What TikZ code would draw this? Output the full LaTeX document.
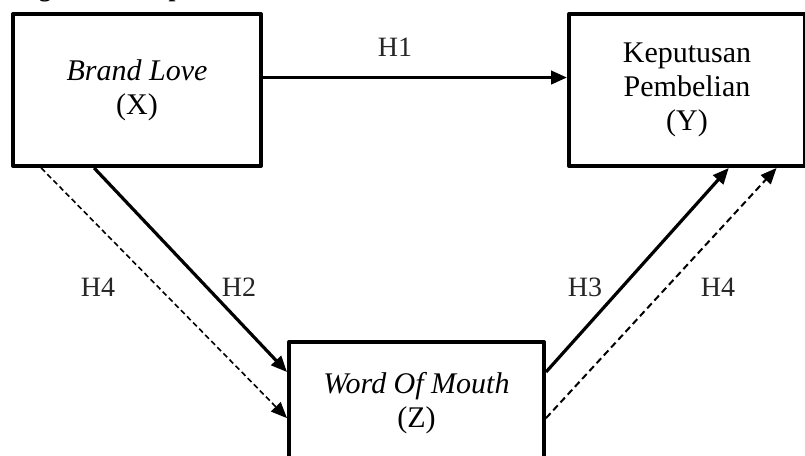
\documentclass[tikz,border=0pt]{standalone}
\usepackage{fontspec}
\setmainfont{Liberation Serif}
\usetikzlibrary{arrows.meta,calc}

\begin{document}
\begin{tikzpicture}[x=0.75pt,y=-0.75pt,
  box/.style={draw,line width=3pt,line join=round,rectangle,inner sep=0pt,
    align=center,font=\fontsize{22.5}{25.5}\selectfont},
  hlabel/.style={font=\fontsize{21}{24}\selectfont,inner sep=0pt,text=black!85},
  tip/.style={-{Triangle[length=12pt,width=10pt]}},
  solidarrow/.style={tip,line width=2.4pt},
  dasharrow/.style={tip,line width=1.5pt,dash pattern=on 5pt off 3pt}]

\useasboundingbox (0,0) rectangle (805,455);
\begin{scope}
\clip (0,0) rectangle (805,455);

% heading above the diagram (mostly outside the frame)
\node[anchor=base west,inner sep=0pt,font=\bfseries\fontsize{18.75}{22}\selectfont]
  (title) at (1,-4) {Diagram Konseptual};

% variables
\node[box,minimum width=186pt,minimum height=114pt] (X) at (137,90)
  {\textit{Brand Love}\\(X)};
\node[box,minimum width=177pt,minimum height=114pt] (Y) at (687,90)
  {Keputusan\\Pembelian\\(Y)};
\node[box,minimum width=191.25pt,minimum height=91.5pt] (Z) at (416.5,403)
  {\textit{Word Of Mouth}\\(Z)};

% direct effect
\draw[solidarrow] ($(X.north east)!0.42!(X.south east)$) -- ($(Y.north west)!0.42!(Y.south west)$);
\node[hlabel] (h1) at (395,47) {H1};

% X -> Z
\draw[solidarrow] ($(X.south west)!0.33!(X.south east)$) -- ($(Z.north west)!0.254!(Z.south west)$);
\draw[dasharrow,line width=1.2pt,dash pattern=on 4pt off 2.5pt]
  ($(X.south west)!0.12!(X.south east)$) -- ($(Z.north west)!0.62!(Z.south west)$);
\node[hlabel] (h2) at (239,287) {H2};
\node[hlabel] (h4a) at (98,287) {H4};

% Z -> Y
\draw[solidarrow] ($(Z.north east)!0.254!(Z.south east)$) -- ($(Y.south west)!0.674!(Y.south east)$);
\draw[dasharrow] ($(Z.north east)!0.62!(Z.south east)$) -- ($(Y.south west)!0.873!(Y.south east)$);
\node[hlabel] (h3) at (585,287) {H3};
\node[hlabel] (h4b) at (718,287) {H4};
\end{scope}
\end{tikzpicture}
\end{document}
